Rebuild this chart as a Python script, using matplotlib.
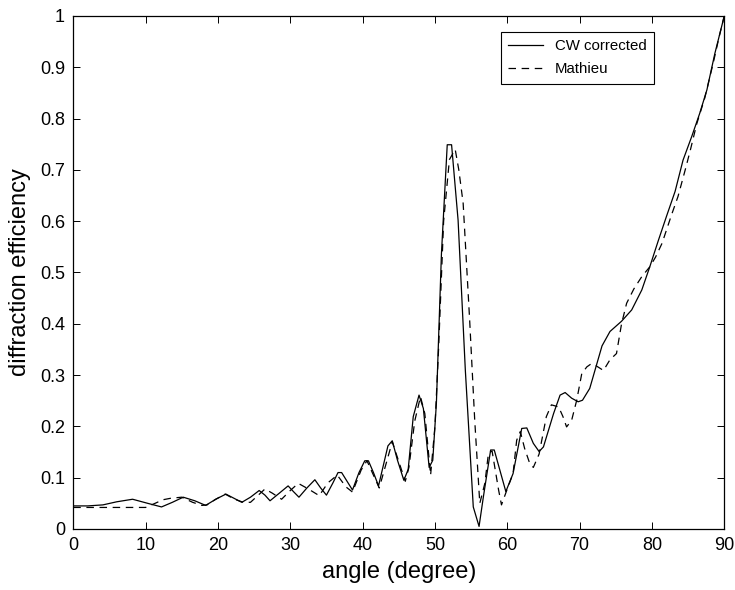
import matplotlib

matplotlib.use("Agg")

import matplotlib.pyplot as plt

# CW corrected result (solid)
cw_angle = [
    0, 2, 4.1, 6, 8.2, 10.3, 12.2, 13.7, 15.2, 16.8, 18.3, 19.7, 21.1, 22.2,
    23.3, 24.5, 25.7, 26.5, 27.2, 28.5, 29.7, 30.5, 31.2, 32.3, 33.4, 34.2,
    35.0, 35.9, 36.6, 37.1, 38.6, 39.5, 40.3, 40.8, 41.5, 42.2, 42.8, 43.5,
    44.1, 44.8, 45.7, 46.3, 47.0, 47.8, 48.4, 49.2, 49.7, 50.2, 50.9, 51.7,
    52.3, 53.2, 54.2, 55.3, 56.1, 56.7, 57.7, 58.2, 59.8, 60.8, 62.0, 62.7,
    63.6, 64.4, 65.0, 66.4, 67.3, 68.0, 68.9, 69.8, 70.4, 71.4, 73.1, 74.2,
    75.8, 77.2, 78.6, 79.7, 80.9, 82.0, 83.2, 84.3, 85.5, 86.6, 87.6, 88.7, 90,
]
cw_eff = [
    0.045, 0.045, 0.047, 0.053, 0.058, 0.050, 0.043, 0.052, 0.062, 0.055,
    0.046, 0.058, 0.068, 0.060, 0.052, 0.062, 0.075, 0.066, 0.055, 0.070,
    0.084, 0.072, 0.062, 0.080, 0.096, 0.080, 0.066, 0.090, 0.110, 0.110,
    0.076, 0.110, 0.133, 0.133, 0.110, 0.084, 0.120, 0.162, 0.172, 0.135,
    0.095, 0.116, 0.219, 0.261, 0.235, 0.120, 0.134, 0.245, 0.537, 0.749,
    0.749, 0.602, 0.310, 0.043, 0.005, 0.063, 0.154, 0.154, 0.073, 0.108,
    0.196, 0.197, 0.167, 0.151, 0.160, 0.225, 0.261, 0.266, 0.255, 0.248,
    0.251, 0.274, 0.357, 0.385, 0.405, 0.427, 0.466, 0.511, 0.563, 0.609,
    0.658, 0.719, 0.765, 0.810, 0.856, 0.927, 1.0,
]

# Mathieu result (dashed)
mat_angle = [
    0, 4, 10, 11.3, 12.4, 13.5, 15, 16.5, 17.8, 18.5, 19.7, 21, 22.3, 23.5,
    24.5, 25.5, 26.5, 27.5, 28.8, 30, 31.1, 32.5, 34, 35.2, 36.5, 37.7, 38.6,
    39.8, 40.6, 42.3, 44.1, 45.9, 46.4, 47.2, 48, 48.6, 49.4, 50, 50.5, 51.2,
    52, 52.8, 53.3, 53.9, 54.8, 55.5, 56.2, 56.9, 57.4, 57.9, 58.8, 59.2,
    60.1, 60.8, 61.3, 61.8, 62.4, 63.1, 63.6, 64.4, 65.4, 66.1, 67.1, 67.7,
    68.2, 68.9, 69.6, 70.3, 71.0, 71.6, 72.3, 73.3, 74.2, 75.1, 75.8, 76.5,
    77.5, 78.6, 79.7, 80.5, 81.4, 82.7, 83.6, 84.6, 85.3, 86.2, 87.3, 88.5,
    89.3, 90,
]
mat_eff = [
    0.042, 0.042, 0.042, 0.050, 0.057, 0.060, 0.062, 0.052, 0.046, 0.047,
    0.058, 0.068, 0.058, 0.052, 0.052, 0.065, 0.078, 0.070, 0.058, 0.075,
    0.089, 0.078, 0.065, 0.090, 0.105, 0.082, 0.072, 0.115, 0.133, 0.080,
    0.170, 0.093, 0.120, 0.210, 0.258, 0.225, 0.105, 0.200, 0.350, 0.600,
    0.720, 0.740, 0.700, 0.635, 0.407, 0.212, 0.050, 0.089, 0.148, 0.152,
    0.076, 0.047, 0.082, 0.108, 0.173, 0.190, 0.157, 0.128, 0.120, 0.146,
    0.219, 0.242, 0.238, 0.219, 0.199, 0.212, 0.251, 0.303, 0.316, 0.322,
    0.318, 0.309, 0.330, 0.342, 0.400, 0.440, 0.468, 0.492, 0.511, 0.530,
    0.557, 0.612, 0.648, 0.700, 0.738, 0.790, 0.840, 0.910, 0.960, 1.0,
]

x_ticks = list(range(0, 91, 10))
y_ticks = [0, 0.1, 0.2, 0.3, 0.4, 0.5, 0.6, 0.7, 0.8, 0.9, 1]
y_tick_labels = ["0", "0.1", "0.2", "0.3", "0.4", "0.5", "0.6", "0.7", "0.8", "0.9", "1"]

plt.rcParams["font.family"] = ["Liberation Sans", "DejaVu Sans"]

fig = plt.figure(figsize=(7.35, 5.9), dpi=100)
ax = fig.add_axes([0.0997, 0.1034, 0.8857, 0.8695])

ax.plot(cw_angle, cw_eff, color="black", lw=0.9, label="CW corrected")
ax.plot(mat_angle, mat_eff, color="black", lw=0.9, dashes=(6, 4.5), label="Mathieu")

ax.set_xlim(0, 90)
ax.set_ylim(0, 1)
ax.set_xticks(x_ticks)
ax.set_yticks(y_ticks)
ax.set_yticklabels(y_tick_labels)
ax.tick_params(direction="in", length=5, width=0.7, top=True, right=True,
               labelsize=13, pad=6)
for sp in ax.spines.values():
    sp.set_linewidth(0.9)

ax.set_xlabel("angle (degree)", fontsize=17, labelpad=5)
ax.set_ylabel("diffraction efficiency", fontsize=17, labelpad=6)

leg = ax.legend(loc="upper left", bbox_to_anchor=(0.657, 0.969), borderaxespad=0,
                fontsize=10.8, fancybox=False, framealpha=1, edgecolor="black",
                handlelength=2.3, borderpad=0.5, labelspacing=0.6,
                handletextpad=0.8)
leg.get_frame().set_linewidth(0.8)

fig.savefig("out.png", dpi=100)
